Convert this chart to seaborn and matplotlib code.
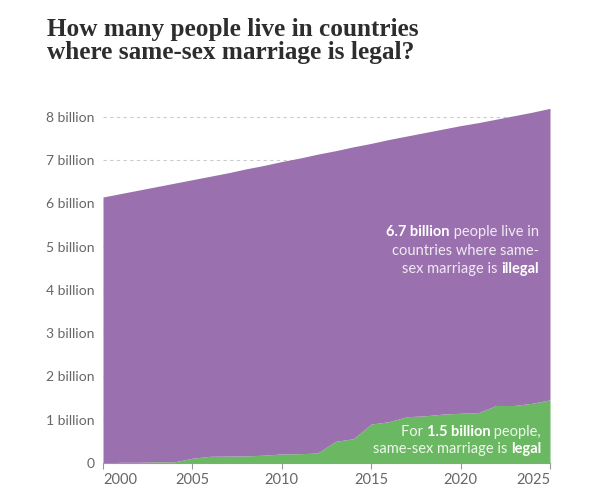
import matplotlib
matplotlib.use("Agg")
import matplotlib.pyplot as plt
import seaborn as sns

# population in billions
years = list(range(2000, 2026))
world_pop = [6.15, 6.23, 6.31, 6.39, 6.47, 6.55, 6.63, 6.71, 6.80, 6.88,
             6.97, 7.05, 7.14, 7.22, 7.31, 7.39, 7.48, 7.56, 7.64, 7.72,
             7.80, 7.87, 7.95, 8.03, 8.11, 8.20]
legal_pop = [0.0, 0.016, 0.016, 0.027, 0.027, 0.11, 0.155, 0.16, 0.165, 0.18,
             0.21, 0.215, 0.23, 0.50, 0.56, 0.90, 0.955, 1.07, 1.09, 1.13,
             1.15, 1.165, 1.33, 1.33, 1.38, 1.46]
x_ticks = [2000, 2005, 2010, 2015, 2020, 2025]
y_ticks = list(range(0, 9))
y_labels = ["0"] + [f"{i} billion" for i in range(1, 9)]

purple = "#9a71ae"
green = "#6bb862"

sns.set_theme(style="white")
plt.rcParams["font.family"] = ["Lato", "DejaVu Sans"]

fig = plt.figure(figsize=(5.99, 4.95), dpi=100)
W, H = 599, 495
ax = fig.add_axes([103 / W, 32 / H, 447 / W, (463 - 104) / H])

ax.fill_between(years, 0, legal_pop, color=green, lw=0, zorder=3)
ax.fill_between(years, legal_pop, world_pop, color=purple, lw=0, zorder=3)

ax.set_xlim(2000, 2025)
ax.set_ylim(0, 8.3)
ax.set_yticks(y_ticks)
ax.set_yticklabels(y_labels)
ax.set_xticks(x_ticks)
ax.set_xticklabels([str(y) for y in x_ticks])
xl = ax.get_xticklabels()
xl[0].set_ha("left")
xl[-1].set_ha("right")

ax.yaxis.grid(True, color="#cccccc", linestyle=(0, (3, 3)), lw=0.8, zorder=0)
ax.xaxis.grid(False)
ax.tick_params(axis="y", length=0, pad=6, labelsize=10, labelcolor="#666666")
ax.tick_params(axis="x", length=4, width=0.8, color="#999999", pad=3,
               labelsize=10.5, labelcolor="#666666", bottom=True)
for s in ["top", "right", "left"]:
    ax.spines[s].set_visible(False)
ax.spines["bottom"].set_color("#999999")
ax.spines["bottom"].set_linewidth(0.8)
ax.spines["bottom"].set_zorder(4)

fig.text(47 / W, 1 - 18 / H,
         "How many people live in countries\nwhere same-sex marriage is legal?",
         ha="left", va="top", fontsize=18.2, fontweight="bold",
         family=["Liberation Serif"], color="#2d2d2d", linespacing=1.0)


def rich_line(x_px, y_px, parts, size=10.5, light="#f1eaf4"):
    # parts given right to left: (text, bold)
    prev = None
    for txt, bold in parts:
        kw = dict(ha="right", va="center", fontsize=size,
                  fontweight="bold" if bold else "normal",
                  color="white" if bold else light, zorder=5)
        if prev is None:
            prev = fig.text(x_px / W, 1 - y_px / H, txt, **kw)
        else:
            prev = ax.annotate(txt, xy=(0, 0.5), xycoords=prev, **kw)


rich_line(539, 232, [(" people live in", False), ("6.7 billion", True)])
rich_line(539, 251, [("countries where same-", False)])
rich_line(539, 269, [("illegal", True), ("sex marriage is ", False)])

rich_line(541, 432, [(" people,", False), ("1.5 billion", True), ("For ", False)],
          light="#eef7ec")
rich_line(541, 449, [("legal", True), ("same-sex marriage is ", False)],
          light="#eef7ec")

fig.savefig("out.png", dpi=100)
